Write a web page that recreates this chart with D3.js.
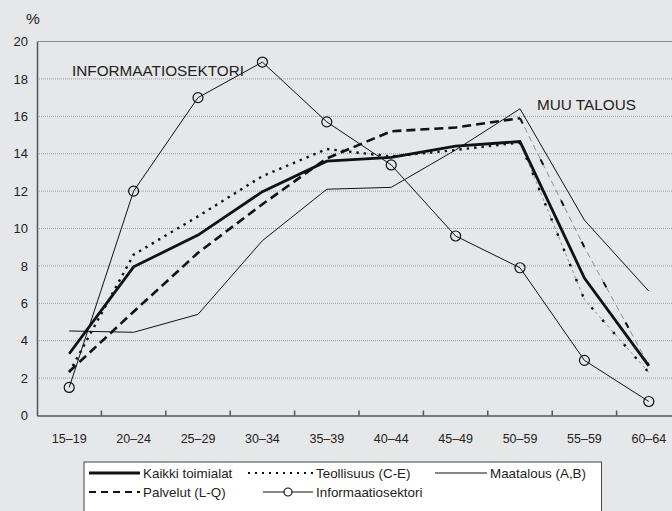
<!DOCTYPE html>
<html><head><meta charset="utf-8">
<script src="https://cdn.jsdelivr.net/npm/d3@7"></script>
<style>html,body{margin:0;padding:0;background:#e6e7e8;overflow:hidden}svg{display:block}</style>
</head><body><svg id="c" width="672" height="511"></svg>
<script>
const categories = ["15–19","20–24","25–29","30–34","35–39","40–44","45–49","50–59","55–59","60–64"];
const yTicks = [0,2,4,6,8,10,12,14,16,18,20];
const kaikki = [3.3,7.95,9.65,11.97,13.6,13.8,14.4,14.65,7.35,2.65];
const teollisuus = [2.3,8.6,10.65,12.8,14.25,13.85,14.2,14.6,6.2,2.3];
const palvelut = [2.35,5.55,8.7,11.3,13.75,15.2,15.4,15.9,9.0,2.7];
const maatalous = [4.52,4.45,5.41,9.35,12.1,12.2,14.2,16.4,10.45,6.65];
const informaatio = [1.5,12.0,17.0,18.9,15.7,13.4,9.6,7.9,2.95,0.75];

const svg = d3.select("#c");
const font = "Arial, 'Liberation Sans', sans-serif";
const x = d3.scaleBand().domain(categories).range([37,681]).paddingInner(0).paddingOuter(0);
const y = d3.scaleLinear().domain([0,20]).range([415.5,41.5]);
const cx = c => x(c) + x.bandwidth()/2;

// grid
svg.append("g").selectAll("line").data(yTicks.filter(d=>d>0 && d<20)).join("line")
  .attr("x1",37).attr("x2",672).attr("y1",d=>y(d)).attr("y2",d=>y(d))
  .attr("stroke","#9a9a9a").attr("stroke-width",1).attr("stroke-dasharray","1,1");
svg.append("line").attr("x1",37).attr("x2",672).attr("y1",y(20)).attr("y2",y(20))
  .attr("stroke","#8a8a8a").attr("stroke-width",1.2);

// y axis
const ya = svg.append("g").attr("transform","translate(37,0)")
  .call(d3.axisLeft(y).tickValues(yTicks).tickSize(0).tickPadding(9));
ya.select(".domain").attr("stroke","#555").attr("stroke-width",1.5);
ya.selectAll("text").attr("font-family",font).attr("font-size",13).attr("fill","#222");
svg.append("text").attr("x",33).attr("y",24).attr("text-anchor","middle")
  .attr("font-family",font).attr("font-size",15.5).attr("fill","#222").text("%");

// x axis
const xa = svg.append("g").attr("transform",`translate(0,${y(0)})`)
  .call(d3.axisBottom(x).tickSize(0).tickPadding(19));
xa.select(".domain").attr("stroke","#555").attr("stroke-width",1.5);
xa.selectAll("text").attr("font-family",font).attr("font-size",12.5).attr("fill","#222");
svg.append("g").selectAll("line").data(categories.slice(1)).join("line")
  .attr("x1",d=>x(d)).attr("x2",d=>x(d)).attr("y1",y(0)).attr("y2",y(0)-5)
  .attr("stroke","#555").attr("stroke-width",1.5);

const line = d3.line().x((d,i)=>cx(categories[i])).y(d=>y(d));
const lineFrom = (arr,s) => d3.line().x((d,i)=>cx(categories[i+s])).y(d=>y(d))(arr.slice(s));

// grey thin underlays on descending parts
svg.append("path").attr("d",lineFrom(teollisuus,7)).attr("fill","none").attr("stroke","#777").attr("stroke-width",0.8).attr("stroke-dasharray","3,3");
svg.append("path").attr("d",lineFrom(palvelut,7)).attr("fill","none").attr("stroke","#777").attr("stroke-width",0.8).attr("stroke-dasharray","6,4");

svg.append("path").attr("d",line(maatalous)).attr("fill","none").attr("stroke","#111").attr("stroke-width",1);
svg.append("path").attr("d",line(informaatio)).attr("fill","none").attr("stroke","#111").attr("stroke-width",1);
svg.append("path").attr("d",line(palvelut.slice(0,8))).attr("fill","none").attr("stroke","#111").attr("stroke-width",2.6).attr("stroke-dasharray","9,5");
svg.append("path").attr("d",lineFrom(palvelut,7)).attr("fill","none").attr("stroke","#111").attr("stroke-width",2).attr("stroke-dasharray","6,40");
svg.append("path").attr("d",line(teollisuus.slice(0,8))).attr("fill","none").attr("stroke","#111").attr("stroke-width",2.4).attr("stroke-dasharray","2.4,5");
svg.append("path").attr("d",lineFrom(teollisuus,7)).attr("fill","none").attr("stroke","#111").attr("stroke-width",2.4).attr("stroke-dasharray","2.4,14");
svg.append("path").attr("d",line(kaikki)).attr("fill","none").attr("stroke","#111").attr("stroke-width",2.8);

svg.append("g").selectAll("circle").data(informaatio).join("circle")
  .attr("cx",(d,i)=>cx(categories[i])).attr("cy",d=>y(d)).attr("r",5)
  .attr("fill","none").attr("stroke","#111").attr("stroke-width",1.2);

// annotations
svg.append("text").attr("x",72).attr("y",76).attr("font-family",font).attr("font-size",15.3).attr("fill","#222").text("INFORMAATIOSEKTORI");
svg.append("text").attr("x",537).attr("y",110).attr("font-family",font).attr("font-size",15.3).attr("fill","#222").text("MUU TALOUS");

// legend
const lg = svg.append("g");
lg.append("rect").attr("x",84).attr("y",462).attr("width",517.5).attr("height",60).attr("fill","#fff").attr("stroke","#444").attr("stroke-width",1);
const legendItems = [
  {label:"Kaikki toimialat", x1:89, x2:140, y:473, w:2.8, dash:null},
  {label:"Teollisuus (C-E)", x1:248, x2:313, y:473, w:1.8, dash:"2,5"},
  {label:"Maatalous (A,B)", x1:435, x2:487, y:473, w:1, dash:null},
  {label:"Palvelut (L-Q)", x1:89, x2:140, y:492, w:2, dash:"7,5"},
  {label:"Informaatiosektori", x1:263, x2:313, y:492, w:1, dash:null, circle:true}
];
legendItems.forEach(it=>{
  const l = lg.append("line").attr("x1",it.x1).attr("x2",it.x2).attr("y1",it.y).attr("y2",it.y).attr("stroke","#111").attr("stroke-width",it.w);
  if(it.dash) l.attr("stroke-dasharray",it.dash);
  if(it.circle) lg.append("circle").attr("cx",(it.x1+it.x2)/2).attr("cy",it.y).attr("r",4).attr("fill","#fff").attr("stroke","#111").attr("stroke-width",1.2);
  lg.append("text").attr("x",it.x2+3).attr("y",it.y+4.5).attr("font-family",font).attr("font-size",13.4).attr("fill","#222").text(it.label);
});
</script></body></html>
